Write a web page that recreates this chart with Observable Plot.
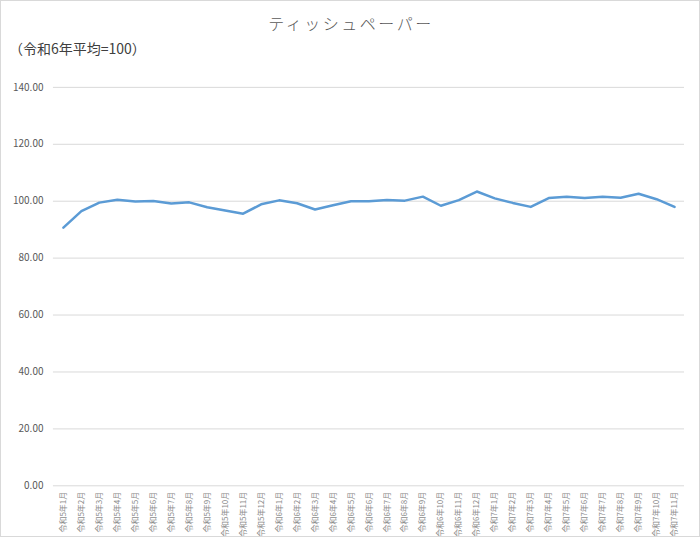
<!DOCTYPE html>
<html><head><meta charset="utf-8">
<script src="https://cdn.jsdelivr.net/npm/d3@7"></script>
<script src="https://cdn.jsdelivr.net/npm/@observablehq/plot@0.6"></script>
<style>
html,body{margin:0;padding:0;background:#fff;}
#wrap{position:relative;width:700px;height:537px;box-sizing:border-box;border:1px solid #d9d9d9;overflow:hidden;font-family:"Noto Sans CJK JP","Noto Sans",sans-serif;}
#title{position:absolute;left:0;width:700px;top:10px;text-align:center;font-size:16px;letter-spacing:2.5px;color:#595959;font-weight:300;}
#sub{position:absolute;left:8px;top:37px;font-size:14px;color:#404040;}
#chart{position:absolute;left:-1px;top:-1px;}
</style></head>
<body>
<div id="wrap">
<div id="chart"></div>
<div id="title">ティッシュペーパー</div>
<div id="sub">（令和6年平均=100）</div>
</div>
<script>
const months = [
 "令和5年1月","令和5年2月","令和5年3月","令和5年4月","令和5年5月","令和5年6月",
 "令和5年7月","令和5年8月","令和5年9月","令和5年10月","令和5年11月","令和5年12月",
 "令和6年1月","令和6年2月","令和6年3月","令和6年4月","令和6年5月","令和6年6月",
 "令和6年7月","令和6年8月","令和6年9月","令和6年10月","令和6年11月","令和6年12月",
 "令和7年1月","令和7年2月","令和7年3月","令和7年4月","令和7年5月","令和7年6月",
 "令和7年7月","令和7年8月","令和7年9月","令和7年10月","令和7年11月"
];
const values = [
 90.7, 96.5, 99.5, 100.5, 99.9, 100.1,
 99.2, 99.6, 97.9, 96.7, 95.6, 98.9,
 100.3, 99.3, 97.1, 98.6, 100.0, 100.0,
 100.4, 100.2, 101.6, 98.4, 100.4, 103.4,
 101.0, 99.4, 98.0, 101.1, 101.6, 101.1,
 101.6, 101.2, 102.6, 100.7, 98.0
];
const yTicks = [0, 20, 40, 60, 80, 100, 120, 140];

const data = months.map((m, i) => ({month: m, value: values[i]}));

const chart = Plot.plot({
  width: 700,
  height: 537,
  marginLeft: 53,
  marginRight: 15,
  marginTop: 87,
  marginBottom: 51,
  style: {fontFamily: '"Noto Sans CJK JP","Noto Sans",sans-serif', background: "transparent"},
  x: {type: "point", domain: months, padding: 0.5, label: null},
  y: {domain: [0, 140], label: null},
  marks: [
    Plot.ruleY(yTicks, {stroke: "#d9d9d9", strokeWidth: 1}),
    Plot.axisY({ticks: yTicks, tickFormat: d => d.toFixed(2), tickSize: 0, tickPadding: 10, fontSize: 10, fill: "#595959", label: null}),
    Plot.axisX({tickSize: 0, tickPadding: 6, tickRotate: -90, fontSize: 8, fill: "#8c8c8c", label: null}),
    Plot.line(data, {x: "month", y: "value", stroke: "#5B9BD5", strokeWidth: 2.5, strokeLinejoin: "round", strokeLinecap: "round"})
  ]
});
document.getElementById("chart").appendChild(chart);
</script>
</body></html>
